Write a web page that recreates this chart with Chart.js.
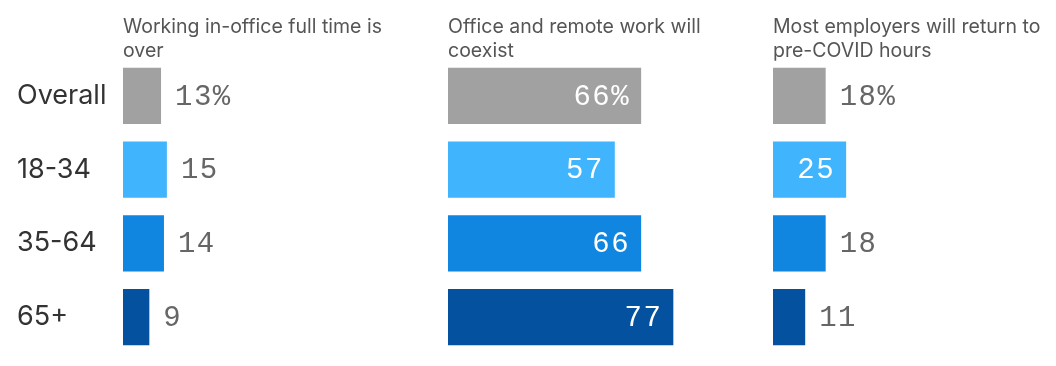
<!DOCTYPE html>
<html>
<head>
<meta charset="utf-8">
<script src="https://cdn.jsdelivr.net/npm/chart.js@4"></script>
<style>
  html, body { margin: 0; padding: 0; background: #fff; }
  body { width: 1056px; height: 366px; position: relative; overflow: hidden; }
  .panel { position: absolute; top: 0; }
</style>
</head>
<body>
<div class="panel" style="left:0"><canvas id="c1" width="448" height="366"></canvas></div>
<div class="panel" style="left:448px"><canvas id="c2" width="325" height="366"></canvas></div>
<div class="panel" style="left:773px"><canvas id="c3" width="283" height="366"></canvas></div>
<script>
// data
const categories = ['Overall', '18-34', '35-64', '65+'];
const inOfficeOver = [13, 15, 14, 9];
const remoteCoexist = [66, 57, 66, 77];
const preCovidHours = [18, 25, 18, 11];
const headerInOffice = ['Working in-office full time is', 'over'];
const headerCoexist = ['Office and remote work will', 'coexist'];
const headerHours = ['Most employers will return to', 'pre-COVID hours'];

const barColors = ['#a0a1a0', '#41b4fe', '#1186e0', '#04519f'];

// value labels: inside the bar if there is room, outside otherwise
const valueLabels = {
  id: 'value_labels',
  afterDatasetsDraw: (chart) => {
    const ctx = chart.ctx;
    const meta = chart.getDatasetMeta(0);
    const values = chart.data.datasets[0].data;
    ctx.save();
    ctx.font = '29px "Liberation Mono", "DejaVu Sans Mono", monospace';
    ctx.letterSpacing = '1.5px';
    ctx.textBaseline = 'middle';
    meta.data.forEach(function(bar, i) {
      const v = values[i];
      const text = v + (i === 0 ? '%' : '');
      if (v >= 20) {
        ctx.fillStyle = '#ffffff';
        ctx.textAlign = 'right';
        ctx.fillText(text, bar.x - 11, bar.y + 1);
      } else {
        ctx.fillStyle = '#666666';
        ctx.textAlign = 'left';
        ctx.fillText(text, bar.x + 14, bar.y + 1);
      }
    });
    ctx.restore();
  }
};

function makePanel(id, values, header, showLabels, padLeft, padRight) {
  const ctx = document.getElementById(id).getContext('2d');
  const yAxis = {
    display: showLabels,
    grid: { display: false },
    border: { display: false },
    ticks: {
      crossAlign: 'far',
      color: '#333333',
      font: { family: 'Inter', size: 27 },
    }
  };
  if (showLabels) {
    yAxis.afterFit = function(scale) {
      scale.width = 106;
      scale.paddingTop = 0;
      scale.paddingBottom = 0;
    };
  }
  return new Chart(ctx, {
    type: 'bar',
    plugins: [valueLabels],
    data: {
      labels: categories,
      datasets: [{
        data: values,
        backgroundColor: barColors,
        barPercentage: 0.76,
        categoryPercentage: 1.0,
      }]
    },
    options: {
      indexAxis: 'y',
      responsive: false,
      animation: false,
      devicePixelRatio: 1,
      layout: {
        padding: { left: padLeft, right: padRight, top: 0, bottom: 12 }
      },
      scales: {
        x: { display: false, min: 0, max: 95 },
        y: yAxis
      },
      plugins: {
        legend: { display: false },
        tooltip: { enabled: false },
        title: {
          display: true,
          text: header,
          align: 'start',
          fullSize: false,
          color: '#555555',
          font: { family: 'Inter', size: 19.5, weight: 'normal', lineHeight: 1.23 },
          padding: { top: 15, bottom: -4 }
        }
      }
    }
  });
}

makePanel('c1', inOfficeOver, headerInOffice, true, 17, 47);
makePanel('c2', remoteCoexist, headerCoexist, false, 0, 47);
makePanel('c3', preCovidHours, headerHours, false, 0, 5);
</script>
</body>
</html>
